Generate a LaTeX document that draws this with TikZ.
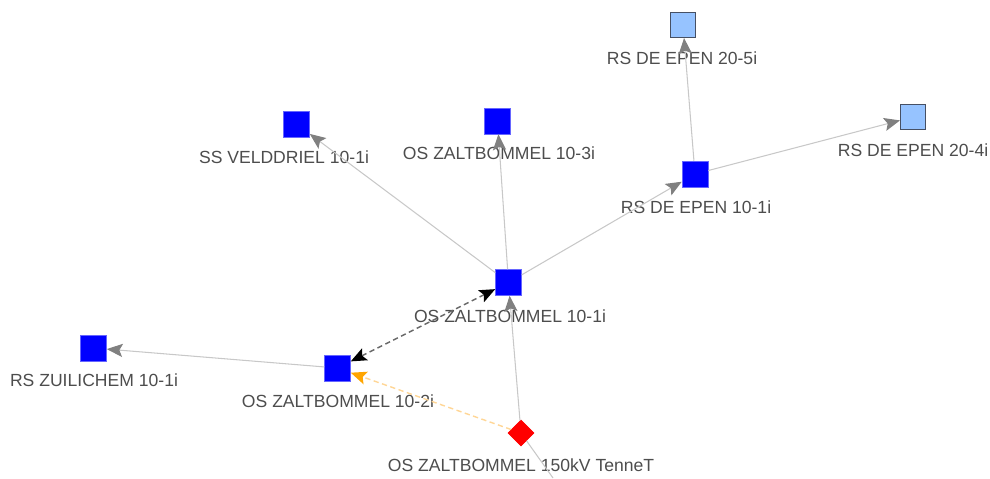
\documentclass[tikz,border=0pt]{standalone}
\usepackage{fontspec}
\setmainfont{Liberation Sans}
\usetikzlibrary{arrows.meta, shapes.geometric}

\definecolor{stationblue}{RGB}{0,0,255}
\definecolor{paleblue}{RGB}{150,195,255}
\definecolor{paleframe}{RGB}{70,80,100}
\definecolor{labelgrey}{RGB}{77,77,77}
\definecolor{linkgrey}{RGB}{200,200,200}
\definecolor{tipgrey}{RGB}{128,128,128}
\definecolor{feedorange}{RGB}{255,165,0}
\definecolor{feedpale}{RGB}{255,214,150}

\begin{document}
\begin{tikzpicture}[x=0.02cm, y=-0.02cm,
    station/.style={rectangle, fill=stationblue, draw=stationblue!60!white, line width=0.3pt, minimum size=0.52cm, inner sep=0pt},
    palestation/.style={rectangle, fill=paleblue, draw=paleframe, line width=0.6pt, minimum size=0.5cm, inner sep=0pt},
    source/.style={diamond, fill=red, draw=red, minimum size=0.52cm, inner sep=0pt},
    tag/.style={text=labelgrey, font=\fontsize{10}{12}\selectfont, inner sep=0pt},
    link/.style={draw=linkgrey, line width=0.6pt, -{Stealth[length=9pt, width=7.5pt, inset=1.8pt, color=tipgrey]}},
    tie/.style={draw=labelgrey!85!white, line width=0.8pt, dash pattern=on 3pt off 2pt, {Stealth[length=9pt, width=7.5pt, inset=1.8pt, color=black]}-{Stealth[length=9pt, width=7.5pt, inset=1.8pt, color=black]}},
    feed/.style={draw=feedpale, line width=0.8pt, dash pattern=on 3pt off 2pt, -{Stealth[length=9pt, width=7.5pt, inset=1.8pt, color=feedorange]}}]
    \useasboundingbox (0,0) rectangle (990,478);

    % stations
    \node[station] (os101) at (508.5,282.5) {};
    \node[station] (os102) at (337.5,368) {};
    \node[station] (os103) at (497.5,121) {};
    \node[station] (zuil) at (93.5,348) {};
    \node[station] (veld) at (296.5,124) {};
    \node[station] (epen101) at (695,174) {};
    \node[palestation] (epen205) at (683,25) {};
    \node[palestation] (epen204) at (913,117) {};
    \node[source] (tennet) at (521,433) {};
    \coordinate (offpage) at (553,478);

    % labels
    \node[tag] (os101tag) at (510,316) {OS ZALTBOMMEL 10-1i};
    \node[tag] (os102tag) at (338,401) {OS ZALTBOMMEL 10-2i};
    \node[tag] (os103tag) at (499,153) {OS ZALTBOMMEL 10-3i};
    \node[tag] (zuiltag) at (94,380) {RS ZUILICHEM 10-1i};
    \node[tag] (veldtag) at (284,157) {SS VELDDRIEL 10-1i};
    \node[tag] (epen101tag) at (696,207) {RS DE EPEN 10-1i};
    \node[tag] (epen205tag) at (682,58) {RS DE EPEN 20-5i};
    \node[tag] (epen204tag) at (913,150) {RS DE EPEN 20-4i};
    \node[tag] (tennettag) at (521,465) {OS ZALTBOMMEL 150kV TenneT};

    % connections
    \draw[link, -] (tennet) -- (offpage);
    \draw[link] (tennet) -- (os101);
    \draw[link] (os101) -- (veld);
    \draw[link] (os101) -- (os103);
    \draw[link] (os101) -- (epen101);
    \draw[link] (epen101) -- (epen205);
    \draw[link] (epen101) -- (epen204);
    \draw[link] (os102) -- (zuil);
    \draw[feed] (tennet) -- (os102);
    \draw[tie] (os101) -- (os102);
\end{tikzpicture}
\end{document}
